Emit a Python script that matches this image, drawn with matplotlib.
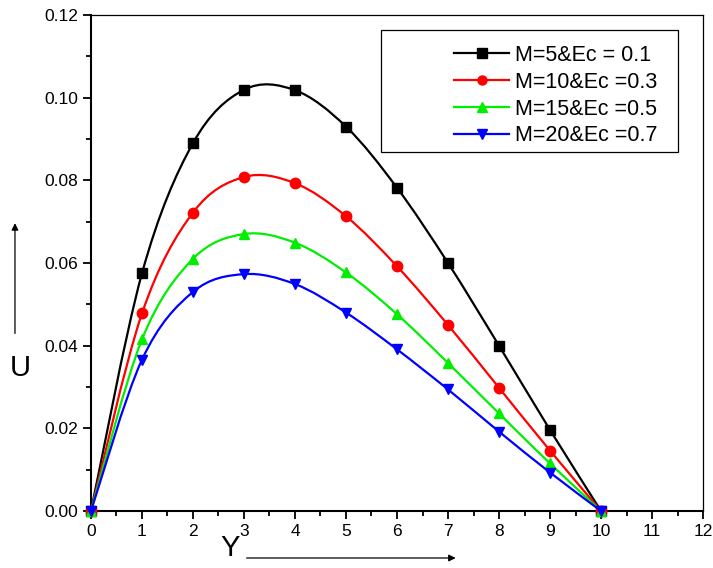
import matplotlib
matplotlib.use('Agg')
import matplotlib.pyplot as plt
import numpy as np
from matplotlib.lines import Line2D
from matplotlib.patches import PathPatch, FancyArrowPatch, Rectangle
from matplotlib.path import Path
from matplotlib.ticker import MultipleLocator

plt.rcParams['font.family'] = ['Liberation Sans', 'DejaVu Sans']

y_pos = [0, 1, 2, 3, 4, 5, 6, 7, 8, 9, 10]
u_m5 = [0, 0.0575, 0.0890, 0.1019, 0.1018, 0.0930, 0.0782, 0.0600, 0.0400, 0.0196, 0]
u_m10 = [0, 0.0478, 0.0722, 0.0808, 0.0793, 0.0713, 0.0592, 0.0450, 0.0298, 0.0146, 0]
u_m15 = [0, 0.0415, 0.0610, 0.0670, 0.0649, 0.0577, 0.0476, 0.0358, 0.0236, 0.0115, 0]
u_m20 = [0, 0.0366, 0.0530, 0.0573, 0.0549, 0.0480, 0.0391, 0.0294, 0.0192, 0.0093, 0]

labels = ['M=5&Ec = 0.1', 'M=10&Ec =0.3', 'M=15&Ec =0.5', 'M=20&Ec =0.7']
colors = ['black', '#ff0000', '#00ee00', '#0000ff']
markers = ['s', 'o', '^', 'v']


def smooth_path(x, y):
    """Catmull-Rom curve through the points, drawn as cubic Bezier segments"""
    pts = np.column_stack([x, y]).astype(float)
    ext = np.vstack([pts[0], pts, pts[-1]])
    verts = [pts[0]]
    codes = [Path.MOVETO]
    for i in range(len(pts) - 1):
        p0, p1, p2, p3 = ext[i], ext[i + 1], ext[i + 2], ext[i + 3]
        verts += [p1 + (p2 - p0) / 6, p2 - (p3 - p1) / 6, p2]
        codes += [Path.CURVE4] * 3
    return Path(verts, codes)


fig = plt.figure(figsize=(7.13, 5.68), dpi=100)
ax = fig.add_axes([0.1276, 0.1004, 0.8584, 0.8732])

series = [u_m5, u_m10, u_m15, u_m20]
handles = []
for vals, c, m, lab in zip(series, colors, markers, labels):
    ax.add_patch(PathPatch(smooth_path(y_pos, vals), facecolor='none', edgecolor=c, lw=1.6, zorder=3))
    ax.plot(y_pos, vals, linestyle='none', marker=m, color=c, markersize=7.5, zorder=4, clip_on=False)
    handles.append(Line2D([], [], color=c, lw=1.6, marker=m, markersize=6.5))

ax.set_xlim(0, 12)
ax.set_ylim(0, 0.12)
ax.xaxis.set_major_locator(MultipleLocator(1))
ax.xaxis.set_minor_locator(MultipleLocator(0.5))
ax.yaxis.set_major_locator(MultipleLocator(0.02))
ax.yaxis.set_minor_locator(MultipleLocator(0.01))
ax.yaxis.set_major_formatter(plt.FormatStrFormatter('%.2f'))
ax.tick_params(which='both', direction='out', labelsize=12.5, width=1.3, top=False, right=False)
ax.tick_params(which='major', length=6)
ax.tick_params(which='minor', length=3.5)
for side in ['left', 'bottom']:
    ax.spines[side].set_linewidth(1.5)
for side in ['top', 'right']:
    ax.spines[side].set_linewidth(0.9)

# the legend box is wider than its entries, so draw the frame on its own
ax.add_patch(Rectangle((0.474, 0.724), 0.485, 0.246, transform=ax.transAxes,
                       facecolor='white', edgecolor='black', lw=0.9, zorder=5))
leg = ax.legend(handles, labels, loc='upper right', bbox_to_anchor=(0.936, 0.9527),
                fontsize=15.5, handlelength=2.52, handletextpad=0.29, borderpad=0.3, labelspacing=0.27,
                frameon=False, borderaxespad=0)
leg.set_zorder(6)

# axis names with arrows
fig.text(0.028, 0.352, 'U', fontsize=21, ha='center', va='center')
fig.text(0.322, 0.035, 'Y', fontsize=21, ha='center', va='center')
fig.add_artist(FancyArrowPatch((0.021, 0.408), (0.021, 0.612), transform=fig.transFigure,
                               arrowstyle='-|>', mutation_scale=10, lw=0.9, color='black'))
fig.add_artist(FancyArrowPatch((0.342, 0.0176), (0.643, 0.0176), transform=fig.transFigure,
                               arrowstyle='-|>', mutation_scale=10, lw=0.9, color='black'))

fig.savefig('out.png', dpi=100)
